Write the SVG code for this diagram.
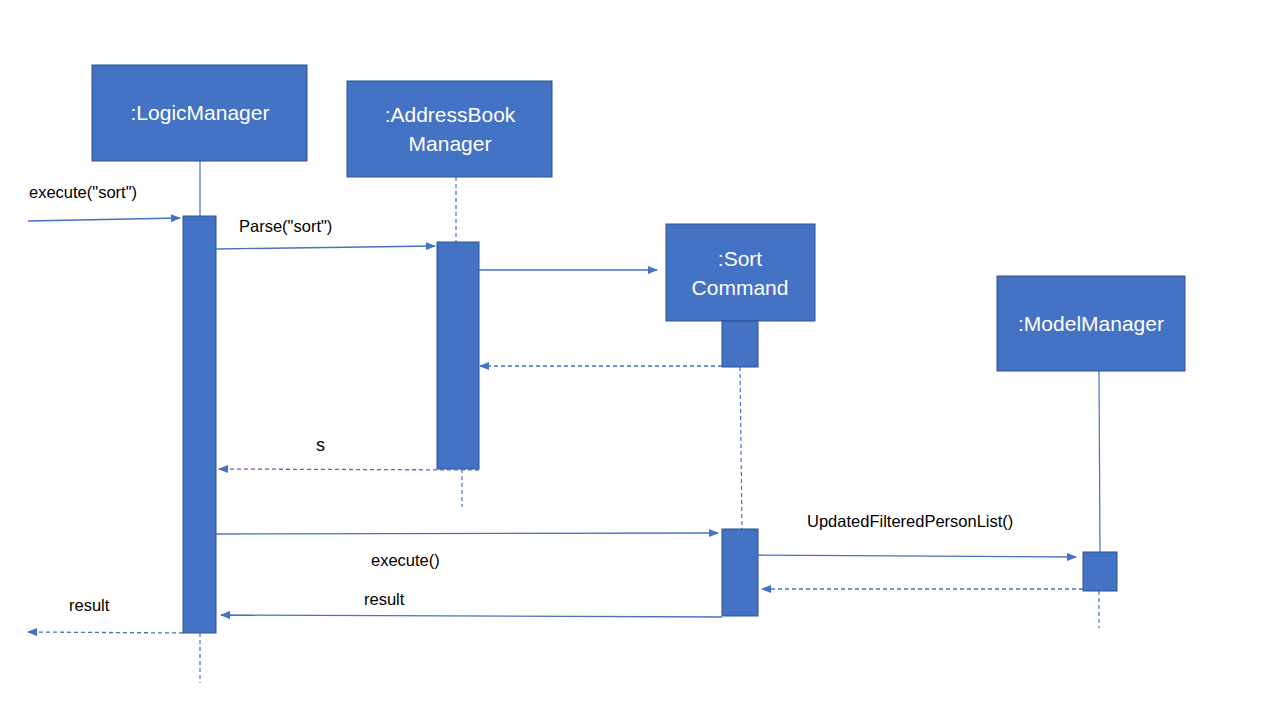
<svg xmlns="http://www.w3.org/2000/svg" width="1280" height="720" viewBox="0 0 1280 720">
<defs>
<style>
.box{fill:#4472C4;stroke:#2F528F;stroke-width:1}
.act{fill:#4472C4;stroke:#2F528F;stroke-width:1}
.name{font-family:"Liberation Sans",Arial,sans-serif;font-size:21px;fill:#fff;text-anchor:middle}
.lbl{font-family:"Liberation Sans",Arial,sans-serif;font-size:16.5px;fill:#000}
.msg{stroke:#4472C4;stroke-width:1.3;fill:none}
.ret{stroke:#4472C4;stroke-width:1.3;fill:none;stroke-dasharray:4 3}
.life{stroke:#4472C4;stroke-width:1.2;fill:none}
.lifed{stroke:#4472C4;stroke-width:1.2;fill:none;stroke-dasharray:4 3}
</style>
<marker id="ah" markerWidth="10" markerHeight="8" refX="9" refY="4" orient="auto" markerUnits="userSpaceOnUse">
<path d="M0,0 L10,4 L0,8 Z" fill="#4472C4"/>
</marker>
</defs>
<rect width="1280" height="720" fill="#fff"/>

<g id="lifelines">
<line class="life" x1="200" y1="161" x2="200" y2="216"/>
<line class="lifed" x1="200" y1="633" x2="200" y2="683"/>
<line class="lifed" x1="456" y1="177" x2="456" y2="242"/>
<line class="lifed" x1="462" y1="469" x2="462" y2="507"/>
<line class="lifed" x1="740" y1="367" x2="742" y2="529"/>
<line class="life" x1="1099" y1="371" x2="1100" y2="552"/>
<line class="lifed" x1="1099" y1="591" x2="1099" y2="628"/>
</g>

<g id="LogicManager">
<rect class="box" x="92" y="65" width="215" height="96"/>
<text class="name" x="200" y="120">:LogicManager</text>
<rect class="act" x="183" y="216" width="33" height="417"/>
</g>

<g id="AddressBookManager">
<rect class="box" x="347" y="81" width="205" height="96"/>
<text class="name" x="450" y="122">:AddressBook</text>
<text class="name" x="450" y="151">Manager</text>
<rect class="act" x="437" y="242" width="42" height="227"/>
</g>

<g id="SortCommand">
<rect class="box" x="666" y="224" width="149" height="97"/>
<text class="name" x="740" y="266">:Sort</text>
<text class="name" x="740" y="295">Command</text>
<rect class="act" x="722" y="321" width="36" height="46"/>
<rect class="act" x="722" y="529" width="36" height="87"/>
</g>

<g id="ModelManager">
<rect class="box" x="997" y="276" width="188" height="95"/>
<text class="name" x="1091" y="331">:ModelManager</text>
<rect class="act" x="1083" y="552" width="34" height="39"/>
</g>

<g id="connectors">
<line class="msg" x1="28" y1="221" x2="180" y2="218" marker-end="url(#ah)"/>
<line class="msg" x1="216" y1="249" x2="435" y2="246" marker-end="url(#ah)"/>
<line class="msg" x1="479" y1="270" x2="657" y2="270" marker-end="url(#ah)"/>
<line class="ret" x1="722" y1="366" x2="480" y2="366" marker-end="url(#ah)"/>
<line class="ret" x1="479" y1="470" x2="219" y2="469" marker-end="url(#ah)"/>
<line class="msg" x1="216" y1="534" x2="718" y2="533" marker-end="url(#ah)"/>
<line class="msg" x1="758" y1="555" x2="1076" y2="557" marker-end="url(#ah)"/>
<line class="ret" x1="1083" y1="589" x2="762" y2="589" marker-end="url(#ah)"/>
<line class="msg" x1="722" y1="617" x2="221" y2="615" marker-end="url(#ah)"/>
<line class="ret" x1="183" y1="633" x2="28" y2="632" marker-end="url(#ah)"/>
</g>

<g id="labels">
<text class="lbl" x="29" y="198">execute("sort")</text>
<text class="lbl" x="239" y="232">Parse("sort")</text>
<text class="lbl" x="316" y="451" style="font-size:18px">s</text>
<text class="lbl" x="371" y="566">execute()</text>
<text class="lbl" x="807" y="527">UpdatedFilteredPersonList()</text>
<text class="lbl" x="364" y="605">result</text>
<text class="lbl" x="69" y="611">result</text>
</g>
</svg>
